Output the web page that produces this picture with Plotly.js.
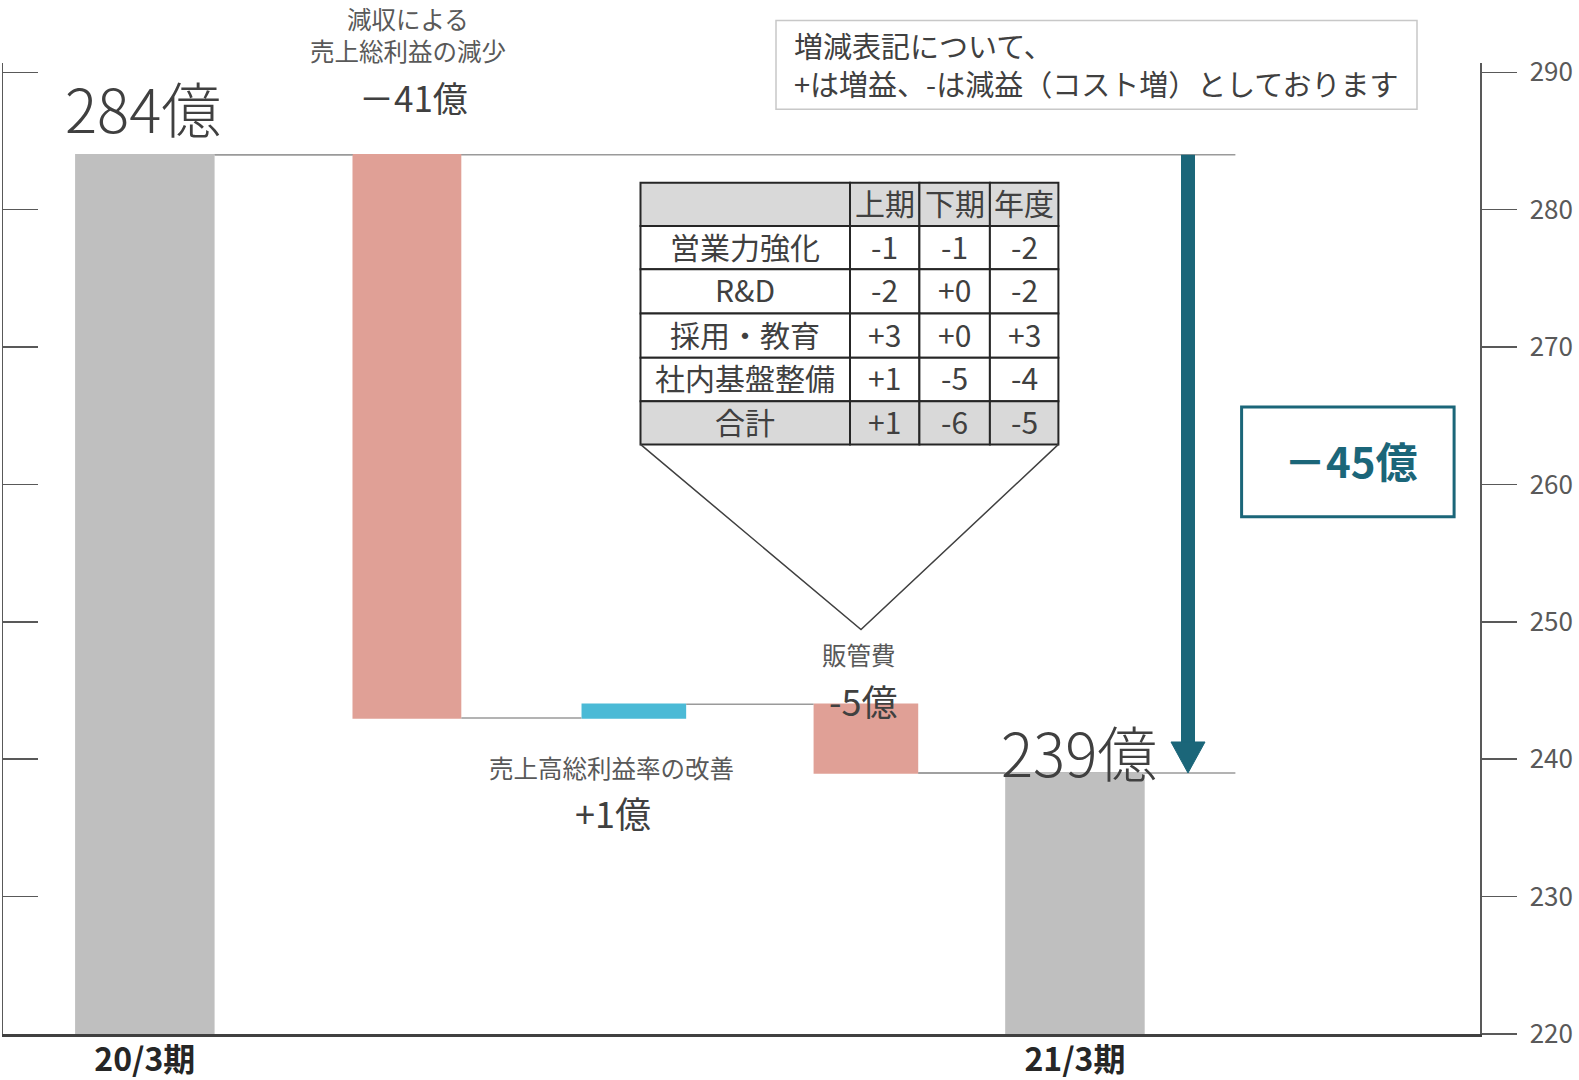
<!DOCTYPE html>
<html><head><meta charset="utf-8">
<script src="https://cdn.plot.ly/plotly-3.0.1.min.js"></script>
<style>body{margin:0;background:#fff}#chart{width:1579px;height:1080px}</style>
</head><body><div id="chart"></div>
<script>
// ---- data ----
const categories = ["20/3期", "減収による売上総利益の減少", "売上高総利益率の改善", "販管費", "21/3期"];
const measures = ["absolute", "relative", "relative", "relative", "total"];
const values = [284, -41, 1, -5, 239];
const tickLabels = ["20/3期", "21/3期"];
const tickCats = ["20/3期", "21/3期"];
const rightTicks = [220, 230, 240, 250, 260, 270, 280, 290];
const tableHeader = ["", "上期", "下期", "年度"];
const tableItems = ["営業力強化", "R&D", "採用・教育", "社内基盤整備", "合計"];
const tableH1 = ["-1", "-2", "+3", "+1", "+1"];
const tableH2 = ["-1", "+0", "+0", "-5", "-6"];
const tableYear = ["-2", "-2", "+3", "-4", "-5"];
const totalChange = "－45億";

const FONT = "'Noto Sans CJK JP', 'Noto Sans', sans-serif";
const TEXT = "#404040";
const SUB = "#595959";
const TEAL = "#1B6679";

const startVal = values[0];
const endVal = values.slice(0, 4).reduce((a, b) => a + b, 0);

// plot geometry (pixels)
const ML = 3, MR = 99, MT = 62.5, MB = 46, W = 1579, H = 1080;
const plotW = W - ML - MR, plotH = H - MT - MB;
const px2x = px => (px - ML) / plotW;
const px2y = py => (H - MB - py) / plotH;

// bar layout (styling / placement)
const widths = [0.6, 0.468, 0.45, 0.45, 0.6];
const shifts = [0, 0.127, 0.103, 0.101, 0];
const offsets = widths.map((w, i) => -w / 2 + shifts[i]);

const Y_MIN = 220, Y_MAX = 290.68;
const pxPerUnit = plotH / (Y_MAX - Y_MIN);

const wf = {
  type: "waterfall",
  x: categories,
  y: values,
  measure: measures,
  width: widths,
  offset: offsets,
  textposition: "none",
  hoverinfo: "skip",
  decreasing: {marker: {color: "#E0A096"}},
  increasing: {marker: {color: "#4BBAD6"}},
  totals: {marker: {color: "#BFBFBF"}},
  connector: {mode: "between", line: {color: "#9A9A9A", width: 1.5}},
  xaxis: "x", yaxis: "y", showlegend: false
};

const dummy = {type: "scatter", x: [categories[0]], y: [null], yaxis: "y2", xaxis: "x",
  mode: "markers", showlegend: false, hoverinfo: "skip"};

// ---- table (drawn with shapes + annotations) ----
const colEdges = [640.5, 850, 919.4, 989.9, 1058.4];
const rowEdges = [182.3, 225.6, 268.9, 313.2, 357.5, 400.8, 444.1];
const tableRows = [tableHeader].concat(tableItems.map((t, i) => [t, tableH1[i], tableH2[i], tableYear[i]]));

const shapes = [];
const annotations = [];

tableRows.forEach((row, r) => {
  const grey = (r === 0 || r === tableRows.length - 1);
  row.forEach((txt, c) => {
    shapes.push({type: "rect", xref: "paper", yref: "paper",
      x0: px2x(colEdges[c]), x1: px2x(colEdges[c + 1]),
      y0: px2y(rowEdges[r + 1]), y1: px2y(rowEdges[r]),
      fillcolor: grey ? "#D9D9D9" : "#FFFFFF", line: {color: "#262626", width: 2}});
    if (txt !== "") {
      annotations.push({text: txt.replace("&", "&amp;"), xref: "paper", yref: "paper",
        x: px2x((colEdges[c] + colEdges[c + 1]) / 2),
        y: px2y((rowEdges[r] + rowEdges[r + 1]) / 2 - 2),
        xanchor: "center", yanchor: "middle", showarrow: false,
        font: {family: FONT, size: 30, color: TEXT}});
    }
  });
});

// arrow geometry
const arrowX = px2x(1188);
const headLen = 31 / pxPerUnit;
const headHalf = 17 / plotW;
const lineEndX = 4.69;

shapes.push(
  // extended reference lines at start and end levels
  {type: "line", xref: "x", yref: "y", x0: widths[0] / 2, x1: lineEndX, y0: startVal, y1: startVal,
   line: {color: "#9A9A9A", width: 1.5}, layer: "below"},
  {type: "line", xref: "x", yref: "y", x0: 3 + offsets[3] + widths[3], x1: lineEndX, y0: endVal, y1: endVal,
   line: {color: "#9A9A9A", width: 1.5}, layer: "below"},
  // note box
  {type: "rect", xref: "paper", yref: "paper", x0: px2x(776), x1: px2x(1417), y0: px2y(108.8), y1: px2y(20.1),
   line: {color: "#C8C8C8", width: 1.5}, fillcolor: "rgba(0,0,0,0)"},
  // table callout triangle
  {type: "path", xref: "paper", yref: "paper",
   path: `M${px2x(colEdges[0])},${px2y(rowEdges[6])} L${px2x(861)},${px2y(629.4)} L${px2x(colEdges[4])},${px2y(rowEdges[6])}`,
   line: {color: "#404040", width: 1.5}},
  // arrow shaft
  {type: "line", xref: "paper", yref: "y", x0: arrowX, x1: arrowX, y0: startVal, y1: endVal + headLen * 0.9,
   line: {color: TEAL, width: 14}},
  // arrow head
  {type: "path", xref: "paper", yref: "y",
   path: `M${arrowX - headHalf},${endVal + headLen} L${arrowX + headHalf},${endVal + headLen} L${arrowX},${endVal} Z`,
   fillcolor: TEAL, line: {color: TEAL, width: 1}},
  // total change box
  {type: "rect", xref: "paper", yref: "paper", x0: px2x(1241.6), x1: px2x(1454.1), y0: px2y(516.6), y1: px2y(406.8),
   line: {color: TEAL, width: 3}, fillcolor: "rgba(0,0,0,0)"}
);

function ann(text, x, y, size, opts) {
  return Object.assign({text: text, xref: "paper", yref: "paper", x: x, y: y,
    xanchor: "center", yanchor: "middle", showarrow: false,
    font: {family: FONT, size: size, color: TEXT}}, opts || {});
}
const small = {family: FONT, size: 24.5, color: SUB};

annotations.push(
  ann(values[0] + "億", 0.0948, 0.9555, 60, {font: {family: FONT, size: 60, color: TEXT, weight: 300}}),
  ann("減収による", 0.2742, 1.0455, 24.5, {font: small}),
  ann("売上総利益の減少", 0.2742, 1.0124, 24.5, {font: small}),
  ann("－" + Math.abs(values[1]) + "億", 0.2776, 0.9658, 35),
  ann("売上高総利益率の改善", 0.4117, 0.2745, 24.5, {font: small}),
  ann("+" + values[2] + "億", 0.4130, 0.2289, 36),
  ann("販管費", 0.5796, 0.3905, 24.5, {font: small}),
  ann(values[3] + "億", 0.5823, 0.3439, 36),
  ann(endVal + "億", 0.7282, 0.2921, 60, {font: {family: FONT, size: 60, color: TEXT, weight: 300}}),
  ann("増減表記について、", px2x(792), px2y(44.5), 29, {xanchor: "left", align: "left"}),
  ann("+は増益、-は減益（コスト増）としております", px2x(792), px2y(82.5), 29, {xanchor: "left", align: "left"}),
  ann(totalChange, px2x(1351.4), px2y(459.2), 42, {font: {family: FONT, size: 42, color: TEAL, weight: 700}})
);

const layout = {
  width: W, height: H,
  margin: {l: ML, r: MR, t: MT, b: MB, pad: 0},
  paper_bgcolor: "#FFFFFF", plot_bgcolor: "#FFFFFF",
  font: {family: FONT, color: TEXT},
  showlegend: false,
  xaxis: {
    type: "category", range: [-0.61, 5.742], fixedrange: true,
    tickmode: "array", tickvals: tickCats, ticktext: tickLabels,
    ticks: "", ticklen: 0, ticklabelstandoff: -4,
    tickfont: {family: FONT, size: 32, color: "#262626", weight: 700},
    showline: true, linecolor: "#404040", linewidth: 3,
    showgrid: false, zeroline: false
  },
  yaxis: {
    side: "right", range: [Y_MIN, Y_MAX], fixedrange: true,
    tickmode: "array", tickvals: rightTicks,
    ticks: "outside", ticklen: 35, tickwidth: 1.5, tickcolor: "#595959",
    ticklabelstandoff: 8,
    tickfont: {family: FONT, size: 26, color: "#595959"},
    showline: true, linecolor: "#595959", linewidth: 1.5,
    showgrid: false, zeroline: false
  },
  yaxis2: {
    overlaying: "y", side: "left", range: [Y_MIN, Y_MAX], fixedrange: true,
    tickmode: "array", tickvals: rightTicks.slice(1),
    ticks: "inside", ticklen: 35, tickwidth: 1.5, tickcolor: "#595959",
    showticklabels: false,
    showline: true, linecolor: "#595959", linewidth: 1.5,
    showgrid: false, zeroline: false
  },
  shapes: shapes,
  annotations: annotations
};

Plotly.newPlot("chart", [wf, dummy], layout, {displayModeBar: false, staticPlot: true});
</script>
</body></html>
